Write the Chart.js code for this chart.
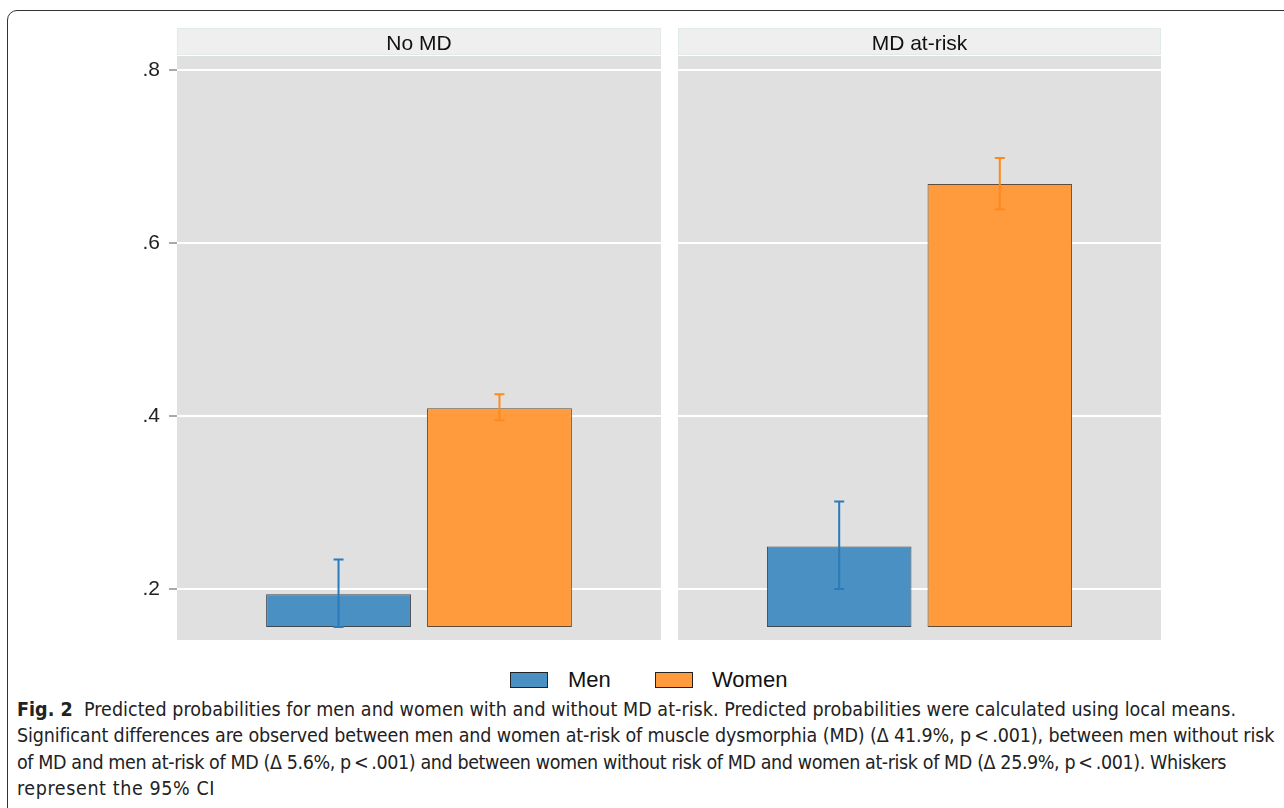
<!DOCTYPE html>
<html>
<head>
<meta charset="utf-8">
<script src="https://cdn.jsdelivr.net/npm/chart.js@4.4.0/dist/chart.umd.min.js"></script>
<style>
  body { margin: 0; background: #fff; width: 1284px; height: 808px; overflow: hidden; position: relative; font-family: "Liberation Sans", Arial, sans-serif; }
  #frame { position: absolute; left: 7px; top: 10px; width: 1320px; height: 840px; border: 1.5px solid #333; border-radius: 10px; }
  .panel { position: absolute; top: 0; height: 640px; }
  #p1 { left: 0; width: 661px; }
  #p2 { left: 678px; width: 483px; }
  .key { position: absolute; top: 672px; width: 36px; height: 14px; border: 1.5px solid #222; }
  .keytxt { position: absolute; top: 667px; font-size: 22px; color: #111; }
  #caption { position: absolute; left: 17px; top: 697px; font-family: "DejaVu Sans Condensed", "Liberation Sans Narrow", sans-serif; font-size: 19.5px; line-height: 26.3px; color: #222; white-space: nowrap; }
  #caption div { display: inline-block; }
</style>
</head>
<body>
<div id="frame"></div>
<div class="panel" id="p1"><canvas id="c1"></canvas></div>
<div class="panel" id="p2"><canvas id="c2"></canvas></div>

<div class="key" style="left:510px;background:#4a90c2"></div>
<div class="keytxt" style="left:568px">Men</div>
<div class="key" style="left:655px;background:#ff9a3d"></div>
<div class="keytxt" style="left:712px">Women</div>

<div id="caption">
  <div data-w="1219"><b>Fig. 2</b>&nbsp; Predicted probabilities for men and women with and without MD at-risk. Predicted probabilities were calculated using local means.</div><br>
  <div data-w="1257">Significant differences are observed between men and women at-risk of muscle dysmorphia (MD) (Δ 41.9%, p&thinsp;&lt;&thinsp;.001), between men without risk</div><br>
  <div data-w="1209">of MD and men at-risk of MD (Δ 5.6%, p&thinsp;&lt;&thinsp;.001) and between women without risk of MD and women at-risk of MD (Δ 25.9%, p&thinsp;&lt;&thinsp;.001). Whiskers</div><br>
  <div data-w="198">represent the 95% CI</div>
</div>

<script>
// data
const categories = ['No MD', 'MD at-risk'];
const seriesNames = ['Men', 'Women'];
const menValues = [0.194, 0.249];
const menLow = [0.156, 0.200];
const menHigh = [0.234, 0.301];
const womenValues = [0.409, 0.668];
const womenLow = [0.395, 0.639];
const womenHigh = [0.425, 0.698];
const tickValues = [0.2, 0.4, 0.6, 0.8];
const tickLabels = ['.2', '.4', '.6', '.8'];
const barBase = 0.156;
const yMin = 0.141;
const yMax = 0.816;

const FONT = '"Liberation Sans", Arial, sans-serif';

// fit each caption line to the width it has in the figure
document.querySelectorAll('#caption div').forEach(line => {
  const target = +line.dataset.w;
  const n = line.textContent.trim().length;
  const w = line.getBoundingClientRect().width;
  line.style.letterSpacing = ((target - w) / n) + 'px';
});

// grey panel + header strip
const panelBg = {
  id: 'panelBg',
  beforeDraw(chart) {
    const { ctx, chartArea: a } = chart;
    ctx.save();
    ctx.fillStyle = '#e0e0e0';
    ctx.fillRect(a.left, a.top, a.right - a.left, a.bottom - a.top);
    ctx.fillStyle = '#efefef';
    ctx.fillRect(a.left, a.top - 28, a.right - a.left, 27);
    ctx.strokeStyle = '#e2e9eb';
    ctx.lineWidth = 1;
    ctx.strokeRect(a.left + 0.5, a.top - 27.5, a.right - a.left - 1, 26);
    ctx.restore();
  }
};

// 95% CI whiskers
const whiskers = {
  id: 'whiskers',
  afterDatasetsDraw(chart) {
    const { ctx } = chart;
    const y = chart.scales.y;
    chart.data.datasets.forEach((ds, di) => {
      const meta = chart.getDatasetMeta(di);
      meta.data.forEach((bar, j) => {
        const [lo, hi] = ds.ci[j];
        const x = bar.x;
        const yl = y.getPixelForValue(lo), yh = y.getPixelForValue(hi);
        ctx.save();
        ctx.strokeStyle = ds.ciColor;
        ctx.lineWidth = 2;
        ctx.beginPath();
        ctx.moveTo(x, yl); ctx.lineTo(x, yh);
        ctx.moveTo(x - 5, yl); ctx.lineTo(x + 5, yl);
        ctx.moveTo(x - 5, yh); ctx.lineTo(x + 5, yh);
        ctx.stroke();
        ctx.restore();
      });
    });
  }
};

function makeChart(id, i, showAxis) {
  return new Chart(document.getElementById(id), {
    type: 'bar',
    data: {
      labels: [categories[i]],
      datasets: [
        {
          label: seriesNames[0],
          data: [[barBase, menValues[i]]],
          ci: [[menLow[i], menHigh[i]]],
          ciColor: '#2a7bbb',
          backgroundColor: '#4a90c2',
          borderColor: 'rgba(35,45,55,0.85)',
          borderWidth: 1,
          borderSkipped: false,
          barPercentage: 0.9,
          categoryPercentage: 0.665
        },
        {
          label: seriesNames[1],
          data: [[barBase, womenValues[i]]],
          ci: [[womenLow[i], womenHigh[i]]],
          ciColor: '#ff8a1c',
          backgroundColor: '#ff9a3d',
          borderColor: 'rgba(70,50,30,0.85)',
          borderWidth: 1,
          borderSkipped: false,
          barPercentage: 0.9,
          categoryPercentage: 0.665
        }
      ]
    },
    options: {
      responsive: true,
      maintainAspectRatio: false,
      animation: false,
      layout: { padding: 0 },
      plugins: { legend: { display: false }, tooltip: { enabled: false } },
      scales: {
        x: {
          position: 'top',
          grid: { display: false, drawTicks: false },
          border: { display: false },
          ticks: { color: '#111', font: { family: FONT, size: 21 }, padding: -1 },
          afterFit: s => { s.height = 56; }
        },
        y: {
          min: yMin,
          max: yMax,
          afterBuildTicks: s => { s.ticks = tickValues.map(v => ({ value: v })); },
          border: { display: false },
          grid: { color: '#ffffff', lineWidth: 2, tickColor: '#555', tickLength: 8, tickWidth: 1, drawTicks: showAxis },
          ticks: {
            display: showAxis,
            color: '#222',
            padding: 9,
            font: { family: FONT, size: 21 },
            callback: (v, idx) => tickLabels[idx]
          },
          afterFit: s => {
            s.width = showAxis ? 177 : 0;
            s.paddingTop = 0;
            s.paddingBottom = 0;
          }
        }
      }
    },
    plugins: [panelBg, whiskers]
  });
}

makeChart('c1', 0, true);
makeChart('c2', 1, false);
</script>
</body>
</html>
